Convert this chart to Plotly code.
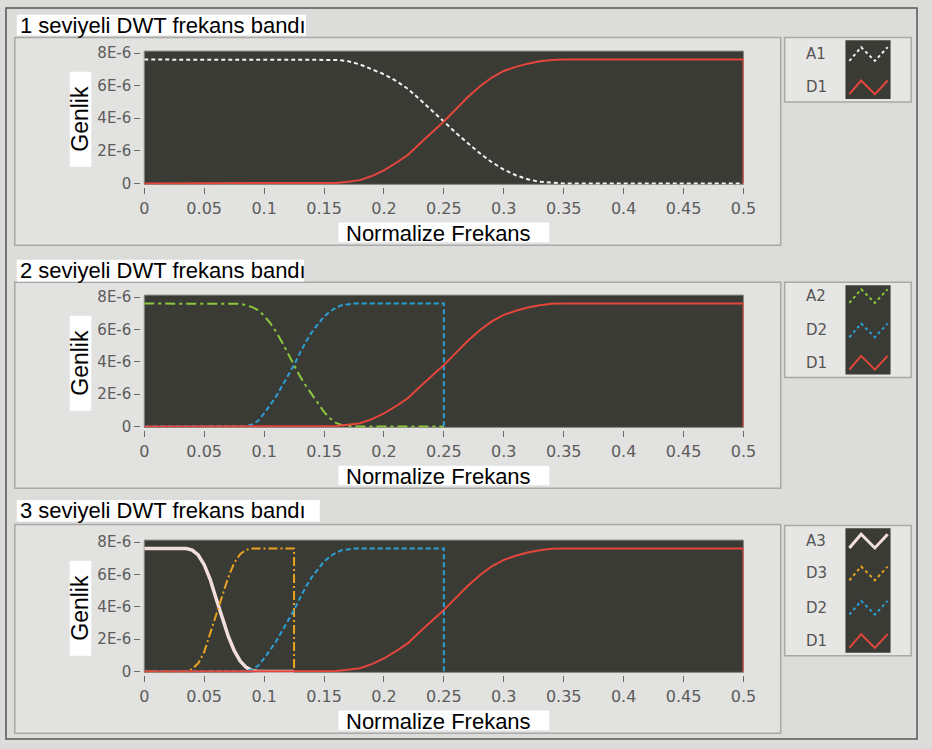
import plotly.graph_objects as go

W, H = 932, 749

# ---------------- data (values in units of 1E-6) ----------------
x_ticks = [0, 0.05, 0.1, 0.15, 0.2, 0.25, 0.3, 0.35, 0.4, 0.45, 0.5]
x_tick_text = ["0", "0.05", "0.1", "0.15", "0.2", "0.25", "0.3", "0.35", "0.4", "0.45", "0.5"]
y_ticks = [0, 2e-6, 4e-6, 6e-6, 8e-6]
y_tick_text = ["0", "2E-6", "4E-6", "6E-6", "8E-6"]

panel_titles = ["1 seviyeli DWT frekans bandı", "2 seviyeli DWT frekans bandı", "3 seviyeli DWT frekans bandı"]

a1_x = [0, 0.15, 0.16, 0.17, 0.18, 0.19, 0.20, 0.21, 0.22, 0.23, 0.24, 0.25, 0.26, 0.27,
        0.28, 0.29, 0.30, 0.31, 0.32, 0.33, 0.34, 0.35, 0.5]
a1_y = [7.6, 7.6, 7.58, 7.5, 7.3, 7.0, 6.7, 6.3, 5.8, 5.15, 4.5, 3.8, 3.1, 2.45,
        1.85, 1.3, 0.85, 0.5, 0.25, 0.1, 0.03, 0.0, 0.0]

d1_x = [0, 0.15, 0.16, 0.17, 0.18, 0.19, 0.20, 0.21, 0.22, 0.23, 0.24, 0.25, 0.26, 0.27,
        0.28, 0.29, 0.30, 0.31, 0.32, 0.33, 0.34, 0.35, 0.5, 0.5]
d1_y = [0.0, 0.0, 0.03, 0.1, 0.2, 0.45, 0.8, 1.25, 1.75, 2.45, 3.1, 3.8, 4.55, 5.3,
        5.95, 6.5, 6.9, 7.15, 7.35, 7.5, 7.58, 7.6, 7.6, 0.0]

a2_x = [0, 0.075, 0.08, 0.085, 0.09, 0.095, 0.1, 0.105, 0.11, 0.115, 0.12, 0.125, 0.13,
        0.135, 0.14, 0.145, 0.15, 0.155, 0.16, 0.165, 0.17, 0.175, 0.25]
a2_y = [7.6, 7.6, 7.58, 7.5, 7.38, 7.2, 6.85, 6.4, 5.85, 5.2, 4.5, 3.8, 3.1,
        2.5, 1.95, 1.4, 0.9, 0.5, 0.22, 0.08, 0.02, 0.0, 0.0]

d2_x = [0, 0.08, 0.085, 0.09, 0.095, 0.1, 0.105, 0.11, 0.115, 0.12, 0.125, 0.13, 0.135,
        0.14, 0.145, 0.15, 0.155, 0.16, 0.165, 0.17, 0.175, 0.25, 0.25]
d2_y = [0.0, 0.0, 0.03, 0.12, 0.35, 0.8, 1.3, 1.85, 2.5, 3.15, 3.8, 4.55, 5.25,
        5.85, 6.35, 6.8, 7.1, 7.35, 7.5, 7.57, 7.6, 7.6, 0.0]

a3_x = [0, 0.035, 0.04, 0.045, 0.05, 0.055, 0.06, 0.065, 0.07, 0.075, 0.08, 0.085, 0.09,
        0.095, 0.125]
a3_y = [7.6, 7.6, 7.5, 7.2, 6.6, 5.7, 4.5, 3.3, 2.2, 1.3, 0.65, 0.25, 0.05,
        0.0, 0.0]

d3_x = [0, 0.035, 0.04, 0.045, 0.05, 0.055, 0.06, 0.065, 0.07, 0.075, 0.08, 0.085, 0.09,
        0.125, 0.125]
d3_y = [0.0, 0.0, 0.15, 0.5, 1.2, 2.35, 3.4, 4.6, 5.8, 6.7, 7.25, 7.52, 7.6,
        7.6, 0.0]

# ---------------- styles ----------------
C_A1 = "#f2f2f2"
C_D1 = "#e4463c"
C_A2 = "#8cc83c"
C_D2 = "#2c9fd6"
C_A3 = "#f3dede"
C_D3 = "#e9a41f"
PLOT_BG = "#3b3b35"
PAPER = "#dcdcda"
TICK_COL = "#5c5c5c"

def e6(v):
    return [t * 1e-6 for t in v]

def px_x(p):
    return p / W

def px_y(p):
    return 1 - p / H

# panel geometry (pixel rows of 8E-6 and 0 ticks)
panels = [
    dict(top=47, zero=180),
    dict(top=296, zero=428),
    dict(top=546, zero=678),
]
X0, X1 = 142, 753

series = [
    [("A1", a1_x, a1_y, C_A1, "4px,3px", 2), ("D1", d1_x, d1_y, C_D1, "solid", 2)],
    [("A2", a2_x, a2_y, C_A2, "10px,4px,3px,4px", 2), ("D2", d2_x, d2_y, C_D2, "5px,3px", 2),
     ("D1", d1_x, d1_y, C_D1, "solid", 2)],
    [("A3", a3_x, a3_y, C_A3, "solid", 3.5), ("D3", d3_x, d3_y, C_D3, "9px,3px,2px,3px", 2),
     ("D2", d2_x, d2_y, C_D2, "5px,3px", 2), ("D1", d1_x, d1_y, C_D1, "solid", 2)],
]

fig = go.Figure()
layout = dict(width=W, height=H, margin=dict(l=0, r=0, t=0, b=0),
              paper_bgcolor=PAPER, plot_bgcolor=PLOT_BG, showlegend=False)

shapes = []
annotations = []

# outer frame
shapes.append(dict(type="rect", xref="paper", yref="paper", x0=px_x(1), x1=px_x(930),
                   y0=px_y(747), y1=px_y(1), line=dict(color="#555555", width=1.5),
                   fillcolor="rgba(0,0,0,0)", layer="below"))

panel_boxes = [(31, 243), (281, 491), (528, 741)]
legend_boxes = [(31, 97), (281, 378), (529, 662)]
legend_rows = [[48, 82], [295, 330, 363], [545, 578, 613, 647]]
title_boxes = [(8, 29, 307), (258, 280, 305), (503, 525, 321)]

for i, p in enumerate(panels):
    sfx = "" if i == 0 else str(i + 1)
    ppu = (p["zero"] - p["top"]) / 8.0  # px per 1E-6
    top_px = p["top"] - 2
    bot_px = p["zero"] + 1
    y_hi = (p["zero"] - top_px) / ppu * 1e-6
    y_lo = (p["zero"] - bot_px) / ppu * 1e-6

    layout["xaxis" + sfx] = dict(
        domain=[px_x(X0), px_x(X1)], range=[0, 0.5], anchor="free",
        position=px_y(p["zero"] + 4), tickvals=x_ticks, ticktext=x_tick_text,
        ticks="outside", ticklen=6, tickcolor="#6a6a6a", tickwidth=1,
        showgrid=False, zeroline=False, showline=False,
        tickfont=dict(family="DejaVu Sans", size=16, color=TICK_COL), fixedrange=True)
    layout["yaxis" + sfx] = dict(
        domain=[px_y(bot_px), px_y(top_px)], range=[y_lo, y_hi], anchor="free",
        position=px_x(X0 - 4), tickvals=y_ticks, ticktext=y_tick_text,
        ticks="outside", ticklen=6, tickcolor="#6a6a6a", tickwidth=1,
        showgrid=False, zeroline=False, showline=False,
        tickfont=dict(family="DejaVu Sans", size=15, color=TICK_COL), fixedrange=True)

    for name, xs, ys, col, dash, wd in series[i]:
        fig.add_trace(go.Scatter(x=xs, y=e6(ys), mode="lines", name=name,
                                 line=dict(color=col, dash=dash, width=wd),
                                 xaxis="x" + sfx, yaxis="y" + sfx, hoverinfo="skip"))

    # raised panel background
    pt, pb = panel_boxes[i]
    shapes.append(dict(type="rect", xref="paper", yref="paper", x0=px_x(10), x1=px_x(791),
                       y0=px_y(pb), y1=px_y(pt), line=dict(color="#a8a8a6", width=1.5),
                       fillcolor="#e2e2e0", layer="below"))
    # dark plotting area
    shapes.append(dict(type="rect", xref="paper", yref="paper", x0=px_x(X0), x1=px_x(X1),
                       y0=px_y(bot_px), y1=px_y(top_px), line=dict(color="#8a8a86", width=1),
                       fillcolor=PLOT_BG, layer="below"))
    # title box
    tt, tb, tr = title_boxes[i]
    shapes.append(dict(type="rect", xref="paper", yref="paper", x0=px_x(12), x1=px_x(tr),
                       y0=px_y(tb), y1=px_y(tt), line=dict(width=0), fillcolor="white",
                       layer="below"))
    annotations.append(dict(text=panel_titles[i], xref="paper", yref="paper",
                            x=px_x(13), y=px_y((tt + tb) / 2), xanchor="left", yanchor="middle",
                            showarrow=False, font=dict(family="Liberation Sans", size=22, color="black")))
    # y axis title box
    gy0, gy1 = p["top"] + 19, p["top"] + 116
    shapes.append(dict(type="rect", xref="paper", yref="paper", x0=px_x(66), x1=px_x(88),
                       y0=px_y(gy1), y1=px_y(gy0), line=dict(width=0), fillcolor="white",
                       layer="below"))
    annotations.append(dict(text="Genlik", xref="paper", yref="paper", x=px_x(77),
                            y=px_y((gy0 + gy1) / 2), textangle=-90, showarrow=False,
                            xanchor="center", yanchor="middle",
                            font=dict(family="Liberation Sans", size=23, color="black")))
    # x axis title box
    ny0, ny1 = p["zero"] + 40, p["zero"] + 60
    shapes.append(dict(type="rect", xref="paper", yref="paper", x0=px_x(340), x1=px_x(555),
                       y0=px_y(ny1), y1=px_y(ny0), line=dict(width=0), fillcolor="white",
                       layer="below"))
    annotations.append(dict(text="Normalize Frekans", xref="paper", yref="paper",
                            x=px_x(442), y=px_y((ny0 + ny1) / 2 + 1), showarrow=False,
                            xanchor="center", yanchor="middle",
                            font=dict(family="Liberation Sans", size=22, color="black")))

    # legend box
    lt, lb = legend_boxes[i]
    shapes.append(dict(type="rect", xref="paper", yref="paper", x0=px_x(795), x1=px_x(924),
                       y0=px_y(lb), y1=px_y(lt), line=dict(color="#a8a8a6", width=1.5),
                       fillcolor="#e6e6e4", layer="below"))
    shapes.append(dict(type="rect", xref="paper", yref="paper", x0=px_x(857), x1=px_x(903),
                       y0=px_y(lb - 3), y1=px_y(lt + 3), line=dict(width=0),
                       fillcolor=PLOT_BG, layer="below"))
    for (name, xs, ys, col, dash, wd), ry in zip(series[i], legend_rows[i]):
        annotations.append(dict(text=name, xref="paper", yref="paper", x=px_x(827),
                                y=px_y(ry), showarrow=False, xanchor="center", yanchor="middle",
                                font=dict(family="DejaVu Sans", size=15, color="#555555")))
        pts = [(861, ry + 7), (873, ry - 7), (887, ry + 7), (900, ry - 7)]
        path = "M " + " L ".join(f"{px_x(a)},{px_y(b)}" for a, b in pts)
        shapes.append(dict(type="path", xref="paper", yref="paper", path=path,
                           line=dict(color=col, width=2 if wd < 3 else 3,
                                     dash="solid" if dash == "solid" else "3px,3px")))

layout["shapes"] = shapes
layout["annotations"] = annotations
fig.update_layout(**layout)
fig.write_html("out.html")
